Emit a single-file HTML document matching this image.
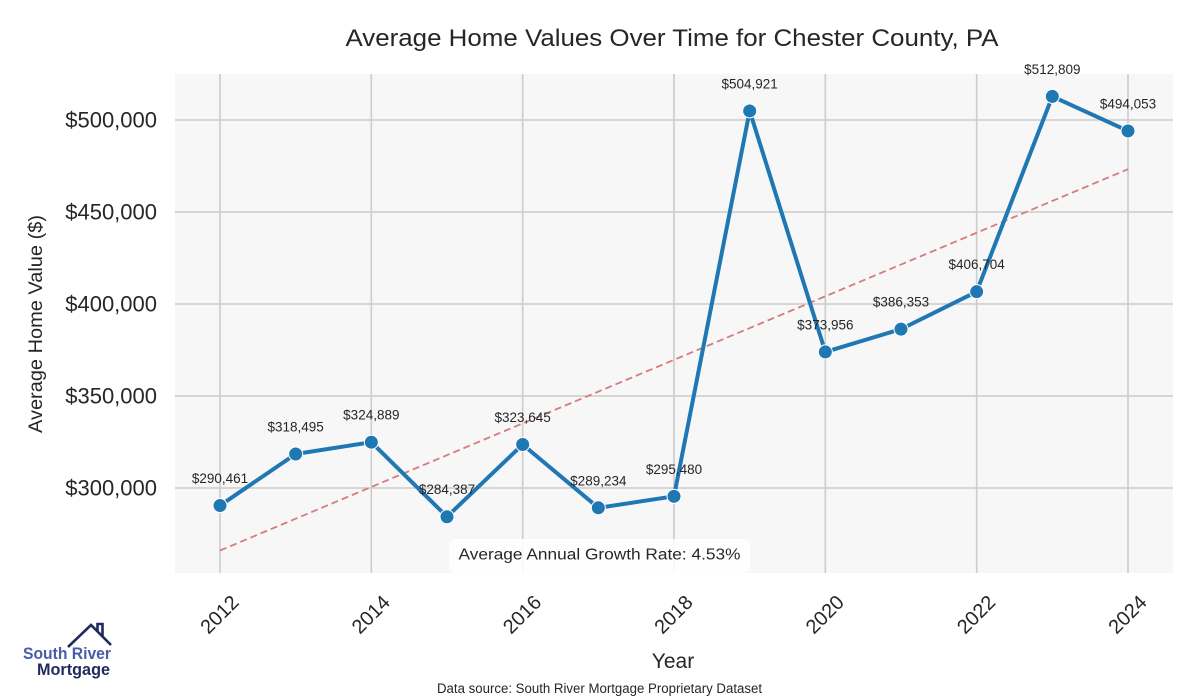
<!DOCTYPE html>
<html>
<head>
<meta charset="utf-8">
<style>
  html,body{margin:0;padding:0;background:#fff;}
  svg{display:block;}
  text{font-family:"Liberation Sans",Arial,sans-serif;fill:#262626;}
</style>
</head>
<body>
<svg width="1200" height="700" viewBox="0 0 1200 700" xmlns="http://www.w3.org/2000/svg">
  <rect x="0" y="0" width="1200" height="700" fill="#fff"/>
  <!-- title -->
  <text x="672" y="46" font-size="24" text-anchor="middle" textLength="653" lengthAdjust="spacingAndGlyphs">Average Home Values Over Time for Chester County, PA</text>

  <!-- plot area -->
  <rect x="175" y="74" width="998" height="499" fill="#f7f7f7"/>

  <!-- grid -->
  <g stroke="#cccccc" stroke-width="1.6">
    <line x1="175" x2="1173" y1="120" y2="120"/>
    <line x1="175" x2="1173" y1="212" y2="212"/>
    <line x1="175" x2="1173" y1="304" y2="304"/>
    <line x1="175" x2="1173" y1="396" y2="396"/>
    <line x1="175" x2="1173" y1="488" y2="488"/>
    <line x1="220" x2="220" y1="74" y2="573"/>
    <line x1="371.33" x2="371.33" y1="74" y2="573"/>
    <line x1="522.67" x2="522.67" y1="74" y2="573"/>
    <line x1="674" x2="674" y1="74" y2="573"/>
    <line x1="825.33" x2="825.33" y1="74" y2="573"/>
    <line x1="976.67" x2="976.67" y1="74" y2="573"/>
    <line x1="1128" x2="1128" y1="74" y2="573"/>
  </g>

  <!-- y tick labels -->
  <g font-size="22" text-anchor="end" dominant-baseline="central">
    <text x="157" y="120">$500,000</text>
    <text x="157" y="212">$450,000</text>
    <text x="157" y="304">$400,000</text>
    <text x="157" y="396">$350,000</text>
    <text x="157" y="488">$300,000</text>
  </g>

  <!-- x tick labels -->
  <g font-size="20" text-anchor="middle" dominant-baseline="central">
    <text x="220" y="615" transform="rotate(-45 220 615)">2012</text>
    <text x="371.33" y="615" transform="rotate(-45 371.33 615)">2014</text>
    <text x="522.67" y="615" transform="rotate(-45 522.67 615)">2016</text>
    <text x="674" y="615" transform="rotate(-45 674 615)">2018</text>
    <text x="825.33" y="615" transform="rotate(-45 825.33 615)">2020</text>
    <text x="976.67" y="615" transform="rotate(-45 976.67 615)">2022</text>
    <text x="1128" y="615" transform="rotate(-45 1128 615)">2024</text>
  </g>

  <!-- axis labels -->
  <text x="673" y="668" font-size="21" text-anchor="middle">Year</text>
  <text x="0" y="0" font-size="19" text-anchor="middle" transform="translate(42 324) rotate(-90)" textLength="218" lengthAdjust="spacingAndGlyphs">Average Home Value ($)</text>

  <!-- trend line -->
  <line x1="220" y1="550.5" x2="1128" y2="169.2" stroke="#d67b7e" stroke-width="1.8" stroke-dasharray="7 4"/>

  <!-- series -->
  <polyline fill="none" stroke="#1f77b4" stroke-width="4" stroke-linejoin="round"
    points="220,505.55 295.67,453.97 371.33,442.2 447,516.73 522.67,444.49 598.33,507.81 674,496.32 749.67,110.95 825.33,351.92 901,329.11 976.67,291.66 1052.33,96.43 1128,130.94"/>
  <g fill="#1f77b4" stroke="#ffffff" stroke-width="1">
    <circle cx="220" cy="505.55" r="7"/>
    <circle cx="295.67" cy="453.97" r="7"/>
    <circle cx="371.33" cy="442.2" r="7"/>
    <circle cx="447" cy="516.73" r="7"/>
    <circle cx="522.67" cy="444.49" r="7"/>
    <circle cx="598.33" cy="507.81" r="7"/>
    <circle cx="674" cy="496.32" r="7"/>
    <circle cx="749.67" cy="110.95" r="7"/>
    <circle cx="825.33" cy="351.92" r="7"/>
    <circle cx="901" cy="329.11" r="7"/>
    <circle cx="976.67" cy="291.66" r="7"/>
    <circle cx="1052.33" cy="96.43" r="7"/>
    <circle cx="1128" cy="130.94" r="7"/>
  </g>

  <!-- data labels -->
  <g font-size="13.5" text-anchor="middle" style="fill:#262626">
    <text x="220" y="483">$290,461</text>
    <text x="295.67" y="431.5">$318,495</text>
    <text x="371.33" y="419.7">$324,889</text>
    <text x="447" y="494.2">$284,387</text>
    <text x="522.67" y="422">$323,645</text>
    <text x="598.33" y="485.3">$289,234</text>
    <text x="674" y="473.8">$295,480</text>
    <text x="749.67" y="88.5">$504,921</text>
    <text x="825.33" y="329.4">$373,956</text>
    <text x="901" y="306.6">$386,353</text>
    <text x="976.67" y="269.2">$406,704</text>
    <text x="1052.33" y="74">$512,809</text>
    <text x="1128" y="108.4">$494,053</text>
  </g>

  <!-- growth annotation -->
  <rect x="449" y="539" width="301" height="34" rx="7" fill="#ffffff" fill-opacity="0.85"/>
  <text x="599.5" y="559.5" font-size="15.5" text-anchor="middle" textLength="282" lengthAdjust="spacingAndGlyphs">Average Annual Growth Rate: 4.53%</text>

  <!-- data source -->
  <text x="599.5" y="693" font-size="13.5" text-anchor="middle" textLength="325" lengthAdjust="spacingAndGlyphs">Data source: South River Mortgage Proprietary Dataset</text>

  <!-- logo -->
  <g fill="none" stroke="#1f2a5e" stroke-width="2.6" stroke-linejoin="miter">
    <polyline points="68,647 91,625 111,645"/>
    <polyline points="97.5,631 97.5,624 102.5,624 102.5,636"/>
  </g>
  <text x="23" y="659" font-size="17" font-weight="bold" style="fill:#4a5ba8" textLength="88" lengthAdjust="spacingAndGlyphs">South River</text>
  <text x="37" y="675" font-size="17" font-weight="bold" style="fill:#1f2a5e" textLength="73" lengthAdjust="spacingAndGlyphs">Mortgage</text>
</svg>
</body>
</html>
